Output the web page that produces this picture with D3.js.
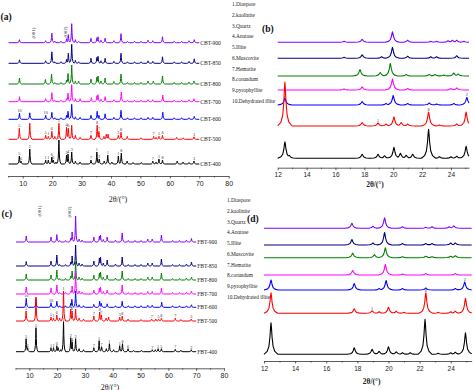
<!DOCTYPE html>
<html><head><meta charset="utf-8">
<script src="https://cdn.jsdelivr.net/npm/d3@7"></script>
<style>body{margin:0;background:#fff}svg{display:block}</style>
</head><body><svg id="c" width="474" height="390"></svg>
<script>
// ---------- DATA ----------
const legendItems = ["1.Diaspore","2.kaolinite","3.Quartz","4.Anatase","5.Illite","6.Muscovite","7.Hematite","8.corundum","9.pyrophyllite","10.Dehydrated illite"];
const seriesColors = ["#8000ff","#000080","#008000","#ff00ff","#0000ff","#ff0000","#000000"];
const cbtNames = ["CBT-900","CBT-850","CBT-800","CBT-700","CBT-600","CBT-500","CBT-400"];
const fbtNames = ["FBT-900","FBT-850","FBT-800","FBT-700","FBT-600","FBT-500","FBT-400"];
const fullTicks = [10,20,30,40,50,60,70,80];
const zoomTicks = [12,14,16,18,20,22,24];

// stacking offsets (intensity units)
const cbtOffsets = [133.3,112.7,92,74.3,56.7,36.7,12];
const cbtZoomOffsets = [125.4,109.4,91.7,77.7,62.7,41.7,9.4];
const fbtOffsets = [126.3,102.3,88.3,74.3,61,47.3,16.6];
const fbtZoomOffsets = [132.7,116,103.3,86,71,47.7,6.7];

// peak lists [2theta, intensity]
const cbt900 = [[8.9,3],[17.8,2],[19.9,9.5],[20.9,1.5],[23.0,1.5],[24.9,4],[25.5,8],[26.65,19],[27.9,3],[29.0,1.5],[33.2,4.5],[35.2,5],[35.6,6],[36.6,2.5],[38.0,4.5],[41.0,2],[43.4,9],[45.6,1.5],[48.0,1.5],[50.2,1.5],[52.6,2.5],[54.2,2],[57.5,6],[61.5,1.5],[64.0,1.5],[66.5,2],[68.3,3]];
const cbt850 = [[8.9,3.5],[17.8,2.5],[19.9,11.5],[20.9,1.5],[23.0,1.5],[24.9,4],[25.5,10],[26.65,19],[27.9,3],[29.0,1.5],[33.2,5],[35.2,6],[35.6,7],[36.6,2.5],[38.0,5],[41.0,2],[43.4,10],[45.6,1.5],[48.0,1.5],[50.2,1.5],[52.6,2.5],[54.2,2],[57.5,6.5],[61.5,1.5],[64.0,1.5],[66.5,2],[68.3,4.5]];
const cbt800 = [[8.9,6],[17.7,4.5],[19.8,10],[20.9,1.5],[23.0,1.5],[24.9,4],[25.4,10.5],[26.65,19],[27.9,3],[29.0,3],[33.2,5],[35.2,7],[35.6,8],[36.6,3],[38.0,6],[41.0,2.5],[43.4,10],[45.6,1.5],[48.0,1.5],[50.2,1.5],[52.6,3],[54.4,3],[57.5,8],[61.5,1.5],[64.0,1.5],[66.5,2],[68.2,3]];
const cbt700 = [[8.9,5],[17.8,3],[19.9,9],[20.9,1.5],[23.0,1.5],[24.9,3],[25.4,8.5],[26.65,17],[27.9,3],[29.5,3],[33.3,4],[35.2,6],[35.6,7],[36.6,2.5],[38.0,5],[41.0,2],[43.5,9.5],[45.6,1.5],[48.0,1.5],[50.2,1.5],[52.6,2],[54.2,2],[57.6,6.5],[61.5,1.5],[64.0,1.5],[66.5,2],[68.2,3]];
const cbt600 = [[8.9,6],[12.4,6.5],[17.8,4],[19.9,7],[20.9,1.5],[23.0,1.5],[24.9,4],[25.4,8],[26.65,15],[27.9,2.5],[29.5,2],[33.2,4],[35.3,8],[35.9,4],[38.0,5.5],[41.0,2],[43.4,9],[45.6,1.5],[48.0,1.5],[50.2,1.5],[52.6,2],[54.2,2],[57.6,7],[61.5,1.5],[64.0,1.5],[66.5,1.5],[68.3,3]];
const cbt500 = [[8.85,11],[12.4,16],[17.8,4],[18.7,3],[19.9,8],[20.9,3],[22.3,16],[24.9,12],[25.5,11],[26.65,14],[27.9,4],[29.5,2],[33.2,4],[35.3,14],[35.9,8],[37.6,3],[38.4,5],[39.0,5],[42.5,4],[43.4,7],[45.5,3],[50.2,1.5],[54.5,3],[55.3,2],[56.3,3],[57.5,4],[62.3,2],[64.5,1.5],[68.2,2.5]];
const cbt400 = [[8.85,8],[9.4,3],[12.4,15],[17.8,4],[18.7,4],[19.9,7],[20.4,4],[21.3,2],[22.3,24],[24.9,9],[25.4,10],[26.65,12],[27.9,3],[29.5,2],[33.2,4],[35.2,12],[36.0,5],[37.7,3],[38.9,9],[40.3,2],[42.5,8],[43.5,11],[45.5,3],[47.5,1.5],[50.3,1.5],[54.2,3],[55.3,2],[56.3,5],[57.5,4],[62.5,3],[64.5,2],[66.5,1.5],[68.2,3]];

const fbt900 = [[8.9,6],[17.8,5],[19.9,7.5],[20.9,1.5],[23.0,1.5],[24.9,4],[25.4,10],[26.65,26],[27.9,3],[29.0,2],[33.2,5],[35.2,6],[35.6,7],[36.6,2.5],[38.0,5],[41.0,2],[43.4,9],[45.6,1.5],[48.0,1.5],[50.2,1.5],[52.6,3],[54.2,3],[57.5,7],[61.5,1.5],[64.0,1.5],[66.5,2],[68.3,3.5]];
const fbt850 = [[8.9,4.5],[17.8,5],[19.9,11],[20.9,1.5],[23.0,1.5],[24.9,4],[25.4,10],[26.65,21],[27.9,3],[29.0,2],[33.2,5],[35.2,8],[35.6,9],[36.6,3],[38.0,6],[41.0,2],[43.4,9],[45.6,1.5],[48.0,1.5],[50.2,1.5],[52.6,3],[54.2,3],[57.5,7],[61.5,1.5],[64.0,1.5],[66.5,2],[68.3,4]];
const fbt800 = [[8.9,6],[17.8,5],[19.9,10],[20.9,1.5],[23.0,1.5],[24.9,4],[25.4,9],[26.65,18],[27.9,3],[29.0,2],[33.2,5],[35.2,7],[35.6,8],[36.6,3],[38.0,5],[41.0,2],[43.4,9],[45.6,1.5],[48.0,1.5],[50.2,1.5],[52.6,3],[54.2,3],[57.5,7],[61.5,1.5],[64.0,1.5],[66.5,2],[68.3,3]];
const fbt700 = [[8.9,7],[17.8,6],[19.9,9],[20.9,1.5],[23.0,1.5],[24.9,3],[25.4,8],[26.65,23],[27.9,3],[29.0,2],[33.2,4],[35.2,6],[35.6,7],[36.6,2.5],[38.0,4],[41.0,2],[43.4,9],[45.6,1.5],[48.0,1.5],[50.2,1.5],[52.6,2.5],[54.2,2.5],[57.5,6],[61.5,1.5],[64.0,1.5],[66.5,2],[68.3,3]];
const fbt600 = [[8.9,9],[12.4,8],[17.8,4.5],[19.9,6],[20.9,1.5],[23.0,1.5],[24.9,4],[25.3,8],[26.65,16],[27.9,2.5],[29.5,1.5],[33.2,3],[35.3,6],[35.9,4],[38.0,3.5],[41.0,1.5],[43.4,6],[45.6,1.5],[48.0,1.5],[50.2,1.5],[52.6,2],[54.2,2],[57.6,5],[61.5,1.5],[64.0,1.5],[66.5,1.5],[68.3,2.5]];
const fbt500 = [[8.85,10],[12.4,24],[17.8,4],[18.7,3],[19.9,6],[20.9,3],[22.3,30],[24.9,12],[25.4,10],[26.65,12],[27.9,3],[29.5,2],[33.2,5],[35.3,9],[35.9,6],[37.6,3],[38.5,4],[42.5,4],[43.4,5],[45.5,2],[50.2,1.5],[54.0,2],[55.5,2],[56.5,2],[57.5,3],[62.5,3],[64.5,1.5],[68.2,2]];
const fbt400 = [[8.85,13],[9.4,4],[12.4,24],[17.8,4],[18.7,4],[19.9,6],[20.4,4],[21.3,2],[22.3,30],[24.9,14],[25.4,10],[26.65,13],[27.9,3],[29.5,2],[33.2,4],[35.1,11],[36.0,5],[37.7,3],[38.8,8],[40.3,2],[42.5,6],[43.5,8],[45.5,3],[47.5,1.5],[50.3,1.5],[54.2,2],[55.3,2],[56.3,3],[57.5,3],[62.5,2.5],[64.5,1.5],[68.2,2]];

const cbtZ900 = [[16.6,1],[17.85,3],[19.95,10.5],[21.0,2],[22.6,1],[23.0,1],[23.8,1.5],[24.1,2],[24.4,2],[24.9,1]];
const cbtZ850 = [[16.6,1],[17.85,3.5],[19.2,1.5],[19.95,11],[21.0,2],[22.6,1.5],[23.0,1.5],[24.4,2.5]];
const cbtZ800 = [[17.7,6.5],[19.1,3.5],[19.8,12.5],[20.9,1.5],[22.5,1.5],[22.9,1.5],[23.5,1],[24.2,3],[24.5,2]];
const cbtZ700 = [[16.6,1],[17.85,3],[19.95,11],[21.0,1.5],[24.0,1.5],[24.4,2]];
const cbtZ600 = [[12.5,7],[17.85,3.5],[19.5,1.5],[20.0,9.5],[21.0,1.5],[22.5,2],[23.0,1],[24.2,1.5],[25.1,7.5]];
const cbtZ500 = [[12.5,44],[17.85,3.5],[18.95,3],[19.5,2],[20.05,9],[20.55,3.5],[21.0,2],[22.45,14],[23.2,1],[24.4,2],[25.05,14]];
const cbtZ400 = [[12.5,16.5],[12.8,3],[17.85,4],[18.95,4],[19.4,2.5],[20.05,11],[20.5,5],[20.9,3],[21.35,4],[22.45,29],[23.2,1.5],[24.0,1.5],[24.4,2],[25.05,12]];

const fbtZ900 = [[17.65,5],[19.0,2],[19.75,10.5],[20.9,1.5],[22.4,1],[22.8,1.5],[23.9,1.5],[24.2,2.5]];
const fbtZ850 = [[17.65,5.5],[19.0,2],[19.75,12.5],[20.9,1.5],[22.4,1.5],[22.8,1.5],[24.0,2],[24.3,2]];
const fbtZ800 = [[17.7,4.5],[19.1,3],[19.8,10],[20.9,1],[22.4,1.5],[22.8,1],[24.0,1.5],[24.3,2]];
const fbtZ700 = [[17.7,4.5],[19.8,10.5],[20.9,1],[22.4,1.5],[24.3,1.5]];
const fbtZ600 = [[12.45,10],[17.8,6.5],[19.4,1.5],[19.85,9.5],[20.9,1.5],[22.4,2],[24.3,1.5],[24.9,8]];
const fbtZ500 = [[12.45,20.5],[17.8,4.5],[18.95,2.5],[19.4,1.5],[20.0,6],[20.5,2],[21.0,1],[22.4,20.5],[23.2,1],[24.0,1.5],[24.3,2],[24.95,15]];
const fbtZ400 = [[12.45,31.5],[17.8,6.5],[18.95,5],[19.4,3],[20.0,7.5],[20.5,2.5],[20.9,1.5],[21.4,1.5],[22.35,35],[23.2,1],[24.0,1.5],[24.3,2],[24.95,21.5]];

// peak annotations [2theta, label] per series index
const cbtMarks = {4:[[8.9,"10"],[17.8,"10"]],5:[[8.85,"5"],[17.8,"5"],[18.7,"1"],[19.9,"6"],[22.3,"1"],[24.9,"4"],[25.5,"6"],[33.2,"7"],[35.3,"8"],[35.9,"7"],[42.5,"3"],[43.4,"8"],[54.5,"7"],[56.3,"5"],[57.5,"8"],[68.2,"3"]],6:[[8.85,"5"],[9.4,"6"],[12.4,"2"],[17.8,"1"],[18.7,"1"],[19.9,"6"],[20.4,"3"],[22.3,"1"],[24.9,"2"],[25.4,"4"],[26.65,"3"],[33.2,"7"],[35.2,"1"],[36.0,"2"],[38.9,"1"],[42.5,"1"],[43.5,"8"],[54.2,"7"],[56.3,"1"],[57.5,"8"],[68.2,"3"]]};
const fbtMarks = {4:[[8.9,"10"],[17.8,"10"]],5:[[8.85,"5"],[17.8,"5"],[18.7,"1"],[19.9,"6"],[22.3,"1"],[24.9,"4"],[25.4,"6"],[26.65,"3"],[33.2,"7"],[35.3,"8"],[35.9,"7"],[42.5,"3"],[43.4,"8"],[54.0,"7"],[56.5,"5"],[57.5,"8"],[62.5,"7"],[68.2,"3"]],6:[[8.85,"5"],[9.4,"6"],[12.4,"2"],[17.8,"1"],[18.7,"1"],[19.9,"6"],[22.3,"1"],[24.9,"2"],[25.4,"4"],[26.65,"3"],[33.2,"7"],[35.1,"1"],[36.0,"7"],[38.8,"1"],[42.5,"1"],[43.5,"8"],[45.5,"6"],[54.2,"7"],[56.3,"1"],[57.5,"5"],[62.5,"7"],[68.2,"3"]]};
const cbtZoomMarks = {4:[[12.5,"2"],[25.1,"2"]],5:[[18.95,"1"],[22.45,"8"]]};
const fbtZoomMarks = {4:[[24.9,"2"]],5:[[18.95,"1"],[22.4,"8"]]};
const reflections = [[13.6,"(001)"],[24.4,"(002)"]];

// ---------- DRAW ----------
const svg = d3.select("#c");
const serif = "'Liberation Serif','Times New Roman',serif";
const sans = "'Liberation Sans',Arial,sans-serif";

// peak profile knots: [relative distance, relative height]
const profile = [[0,1],[0.06,0.86],[0.15,0.55],[0.3,0.25],[0.55,0.09],[1,0]];
function peakValue(peaks, w, x){
  let v = 0;
  for (const [p,h] of peaks){
    const d = Math.abs(x-p)/w;
    if (d>=1) continue;
    let f = 0;
    for (let k=1;k<profile.length;k++){
      if (d<=profile[k][0]){
        const [d0,f0]=profile[k-1],[d1,f1]=profile[k];
        f = f0 + (f1-f0)*(d-d0)/(d1-d0); break;
      }
    }
    v = Math.max(v, h*f);
  }
  return v;
}
function tracePoints(peaks, w, x0, x1){
  const xs = new Set([x0,x1]);
  for (const [p] of peaks) for (const [k] of profile) for (const s of [-1,1]) {
    const x = p + s*k*w; if (x>=x0 && x<=x1) xs.add(+x.toFixed(4));
  }
  return [...xs].sort((a,b)=>a-b).map(x=>[x, peakValue(peaks,w,x)]);
}

function drawPanel(cfg){
  const g = svg.append("g");
  const x = d3.scaleLinear().domain(cfg.xDomain).range(cfg.xRange);
  const y = d3.scaleLinear().domain([0,200]).range([cfg.axisY, cfg.axisY-200]);
  const line = d3.line().x(d=>x(d[0])).y(d=>y(d[1]));
  cfg.series.forEach((peaks,i)=>{
    const off = cfg.offsets[i];
    const pts = tracePoints(peaks, cfg.w, cfg.xLine[0], cfg.xLine[1]).map(d=>[d[0], d[1]+off]);
    g.append("path").attr("d", line(pts)).attr("fill","none")
      .attr("stroke", seriesColors[i]).attr("stroke-width", cfg.lw).attr("stroke-linejoin","round");
    if (cfg.names){
      g.append("text").attr("x", x(cfg.xLine[1])+1).attr("y", y(off)+2)
        .attr("font-family", serif).attr("font-size", 5.6).attr("fill","#222").text(cfg.names[i]);
    }
    const marks = (cfg.marks||{})[i] || [];
    marks.forEach(([p,t])=>{
      g.append("text").attr("x", x(p)).attr("y", y(off + peakValue(peaks,cfg.w,p)) - 1.2)
        .attr("text-anchor","middle").attr("font-family", serif).attr("font-size", cfg.markSize)
        .attr("fill","#333").text(t);
    });
  });
  // axis
  const ax = g.append("g").attr("transform", `translate(0,${cfg.axisY})`)
    .call(d3.axisBottom(x).tickValues(cfg.ticks).tickSize(2.5).tickSizeOuter(0).tickPadding(2.5).tickFormat(d3.format("d")));
  ax.selectAll("text").attr("font-family", sans).attr("font-size", cfg.tickFont).attr("fill","#222");
  ax.select(".domain").attr("stroke","#333").attr("stroke-width",0.8);
  ax.selectAll(".tick line").attr("stroke","#333").attr("stroke-width",0.8);
  const minor = g.append("g").attr("transform", `translate(0,${cfg.axisY})`)
    .call(d3.axisBottom(x).tickValues(cfg.minor).tickSize(1.5).tickSizeOuter(0).tickFormat(""));
  minor.select(".domain").remove();
  minor.selectAll(".tick line").attr("stroke","#333").attr("stroke-width",0.7);
  // axis title
  g.append("text").attr("x", cfg.titleX).attr("y", cfg.titleY).attr("text-anchor","middle")
    .attr("font-family", serif).attr("font-size", cfg.titleSize).attr("fill","#222")
    .attr("font-weight", cfg.titleBold ? "bold" : "normal").text("2θ/(°)");
  // panel label
  g.append("text").attr("x", cfg.labelX).attr("y", cfg.labelY).attr("font-family", serif)
    .attr("font-weight","bold").attr("font-size", 9.5).attr("fill","#111").text(cfg.label);
  // reflection labels
  if (cfg.refl){
    reflections.forEach(([p,t],k)=>{
      g.append("text").attr("transform", `translate(${x(p)+1.8},${cfg.reflY[k]}) rotate(-90)`)
        .attr("text-anchor","middle").attr("font-family", serif).attr("font-size", 5)
        .attr("fill","#333").text(t);
    });
  }
  // legend
  if (cfg.legendX){
    legendItems.forEach((t,k)=>{
      g.append("text").attr("x", cfg.legendX).attr("y", cfg.legendY + k*10.75)
        .attr("font-family", serif).attr("font-size", 5.4).attr("fill","#222").text(t);
    });
  }
}

const minorFull = [5,15,25,35,45,55,65,75];
const minorZoom = [13,15,17,19,21,23,25];

drawPanel({series:[cbt900,cbt850,cbt800,cbt700,cbt600,cbt500,cbt400], names:cbtNames, offsets:cbtOffsets,
  marks:cbtMarks, markSize:4.2, xDomain:[5,80], xRange:[8,228.7], xLine:[5.2,70], axisY:176, w:0.75, lw:1,
  ticks:fullTicks, minor:minorFull, tickFont:7, titleX:118, titleY:202, titleSize:8, titleBold:false,
  label:"(a)", labelX:0.5, labelY:20, refl:true, reflY:[33,32], legendX:232, legendY:6});
drawPanel({series:[cbtZ900,cbtZ850,cbtZ800,cbtZ700,cbtZ600,cbtZ500,cbtZ400], offsets:cbtZoomOffsets,
  marks:cbtZoomMarks, markSize:4.2, xDomain:[12,25.25], xRange:[277.7,469], xLine:[12,25.25], axisY:167.7, w:0.5, lw:1.1,
  ticks:zoomTicks, minor:minorZoom, tickFont:6.5, titleX:375, titleY:186.5, titleSize:7.5, titleBold:true,
  label:"(b)", labelX:262, labelY:32});
drawPanel({series:[fbt900,fbt850,fbt800,fbt700,fbt600,fbt500,fbt400], names:fbtNames, offsets:fbtOffsets,
  marks:fbtMarks, markSize:4.2, xDomain:[5,80], xRange:[15.4,224], xLine:[5.2,70], axisY:368.3, w:0.75, lw:1,
  ticks:fullTicks, minor:minorFull, tickFont:7, titleX:110, titleY:389.5, titleSize:8, titleBold:false,
  label:"(c)", labelX:1.5, labelY:217, refl:true, reflY:[211,212], legendX:227, legendY:202});
drawPanel({series:[fbtZ900,fbtZ850,fbtZ800,fbtZ700,fbtZ600,fbtZ500,fbtZ400], offsets:fbtZoomOffsets,
  marks:fbtZoomMarks, markSize:4.2, xDomain:[12,25.35], xRange:[264,471.7], xLine:[12,25.35], axisY:361, w:0.45, lw:1.1,
  ticks:zoomTicks, minor:minorZoom, tickFont:6.5, titleX:371.7, titleY:383.5, titleSize:7.5, titleBold:true,
  label:"(d)", labelX:247, labelY:221.5});
</script></body></html>
